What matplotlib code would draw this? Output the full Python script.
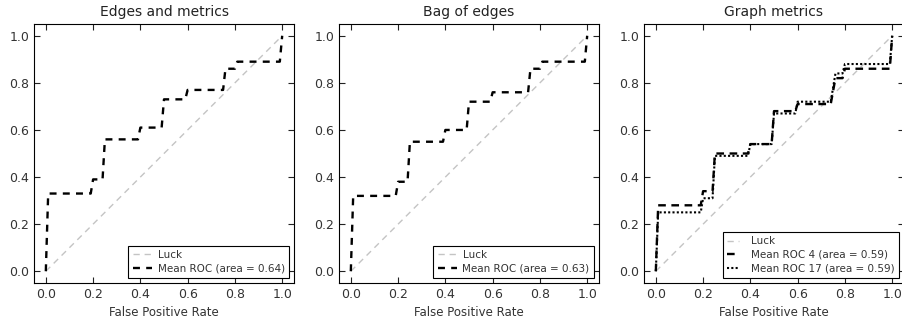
import numpy as np
import matplotlib
matplotlib.use('Agg')
import matplotlib.pyplot as plt

plt.rcParams.update({'font.family': 'DejaVu Sans', 'xtick.direction': 'in', 'ytick.direction': 'in',
                     'xtick.top': True, 'ytick.right': True, 'axes.linewidth': 0.8,
                     'xtick.major.size': 4, 'ytick.major.size': 4, 'lines.scale_dashes': False})

TITLES = ['Edges and metrics', 'Bag of edges', 'Graph metrics']
TICKS = [0.0, 0.2, 0.4, 0.6, 0.8, 1.0]

# panel 1 mean ROC
fpr_a = [0.0, 0.01, 0.19, 0.20, 0.24, 0.25, 0.39, 0.40, 0.49, 0.50, 0.59, 0.60, 0.75, 0.76, 0.80, 0.81, 0.99, 1.0]
tpr_a = [0.0, 0.33, 0.33, 0.39, 0.39, 0.56, 0.56, 0.61, 0.61, 0.73, 0.73, 0.77, 0.77, 0.86, 0.86, 0.89, 0.89, 1.0]
auc_a = 0.64

# panel 2 mean ROC
fpr_b = [0.0, 0.01, 0.19, 0.20, 0.24, 0.25, 0.39, 0.40, 0.49, 0.50, 0.59, 0.60, 0.75, 0.76, 0.80, 0.81, 0.99, 1.0]
tpr_b = [0.0, 0.32, 0.32, 0.38, 0.38, 0.55, 0.55, 0.60, 0.60, 0.72, 0.72, 0.76, 0.76, 0.86, 0.86, 0.89, 0.89, 1.0]
auc_b = 0.63

# panel 3: two mean ROCs
fpr_c = [0.0, 0.01, 0.19, 0.20, 0.24, 0.25, 0.39, 0.40, 0.49, 0.50, 0.59, 0.60, 0.74, 0.76, 0.79, 0.80, 0.99, 1.0]
tpr_c4 = [0.0, 0.28, 0.28, 0.34, 0.34, 0.50, 0.50, 0.54, 0.54, 0.68, 0.68, 0.71, 0.71, 0.82, 0.82, 0.86, 0.86, 1.0]
tpr_c17 = [0.0, 0.25, 0.25, 0.31, 0.31, 0.49, 0.49, 0.54, 0.54, 0.67, 0.67, 0.72, 0.72, 0.84, 0.84, 0.88, 0.88, 1.0]
auc_c4 = 0.59
auc_c17 = 0.59

fig = plt.figure(figsize=(9.02, 3.22), dpi=100)
lefts = [34, 339, 644]
axes = [fig.add_axes([l / 902, 39 / 322, 260 / 902, 259 / 322]) for l in lefts]

for ax, title in zip(axes, TITLES):
    ax.plot([0, 1], [0, 1], '--', color='#c4c4c4', lw=1, dashes=(4.5, 3.5), label='Luck')
    ax.set_title(title, fontsize=10, color='#222222')

axes[0].plot(fpr_a, tpr_a, 'k--', lw=1.7, dashes=(5, 4.5), label=f'Mean ROC (area = {auc_a:.2f})')
axes[1].plot(fpr_b, tpr_b, 'k--', lw=1.7, dashes=(5, 4.5), label=f'Mean ROC (area = {auc_b:.2f})')
axes[2].plot(fpr_c, tpr_c4, 'k--', lw=1.7, dashes=(5.5, 4), label=f'Mean ROC 4 (area = {auc_c4:.2f})')
axes[2].plot(fpr_c, tpr_c17, 'k:', lw=1.5, dashes=(1.5, 1.6), label=f'Mean ROC 17 (area = {auc_c17:.2f})')

for i, ax in enumerate(axes):
    ax.set_xlim(-0.05, 1.05)
    ax.set_ylim(-0.05, 1.05)
    ax.set_xticks(TICKS)
    ax.set_yticks(TICKS)
    ax.tick_params(labelsize=9, colors='#222222', labelcolor='#333333')
    ax.set_xlabel('False Positive Rate', fontsize=8.5, color='#333333')
    if i < 2:
        hl, tp = 1.9, 0.5
    else:
        hl, tp = 1.1, 1.2
    leg = ax.legend(loc='lower right', fontsize=7.5, fancybox=False, framealpha=1,
                    handlelength=hl, handletextpad=tp, borderaxespad=0.5, borderpad=0.4,
                    labelspacing=0.35)
    leg.get_frame().set_edgecolor('black')
    leg.get_frame().set_linewidth(0.8)
    for t in leg.get_texts():
        t.set_color('#333333')

fig.savefig('out.png', dpi=100)
